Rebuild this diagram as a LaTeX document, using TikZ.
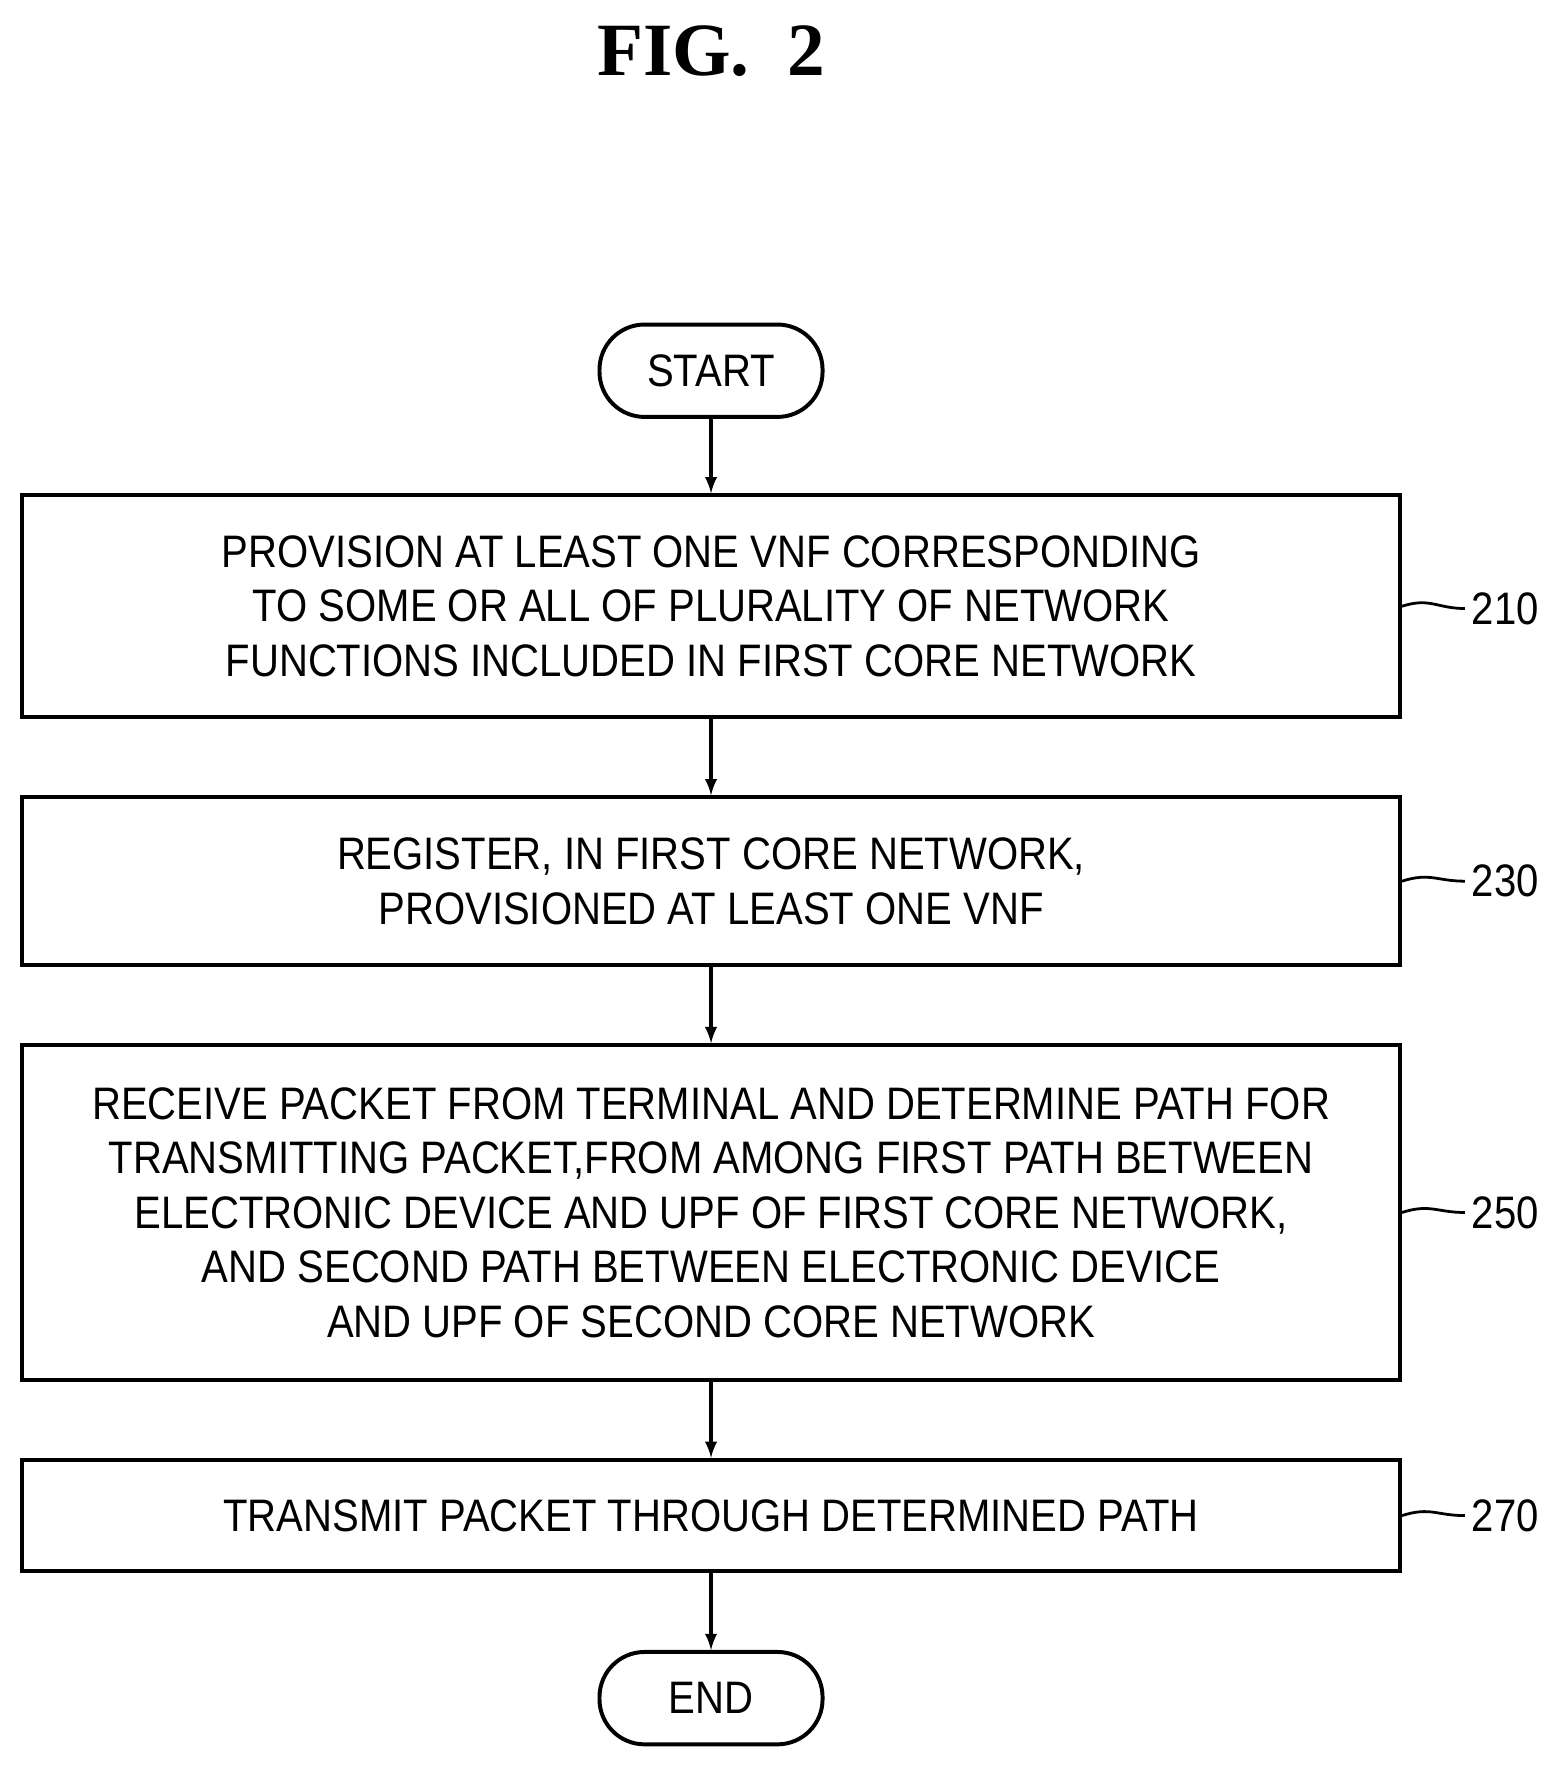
\documentclass[tikz,border=0pt]{standalone}
\usepackage{fontspec}
\setmainfont{Liberation Sans}[FakeStretch=0.88]
\newfontfamily\figfont{Liberation Serif}
\usetikzlibrary{shapes,arrows,positioning}

\begin{document}
\begin{tikzpicture}[x=0.02cm,y=-0.02cm,
  every node/.style={font=\fontsize{23}{27.5}\selectfont,align=center},
  box/.style={draw,line width=2pt,minimum width=24.46cm,inner sep=0pt},
  term/.style={draw,line width=2pt,rounded corners=0.8cm,minimum width=3.96cm,minimum height=1.64cm},
  ref/.style={anchor=west},
  flow/.style={-latex,line width=1.8pt}]
\useasboundingbox (0,0) rectangle (1390,1569);

\node[font=\figfont\bfseries\fontsize{38}{42}\selectfont] (fig) at (631,45) {FIG.\ \ 2};

\node[term] (start) at (631,329) {START};
\node[box,minimum height=3.94cm] (s210) at (631,538) {PROVISION AT LEAST ONE VNF CORRESPONDING\\TO SOME OR ALL OF PLURALITY OF NETWORK\\FUNCTIONS INCLUDED IN FIRST CORE NETWORK};
\node[box,minimum height=2.98cm] (s230) at (631,782) {REGISTER, IN FIRST CORE NETWORK,\\PROVISIONED AT LEAST ONE VNF};
\node[box,minimum height=5.94cm] (s250) at (631,1076) {RECEIVE PACKET FROM TERMINAL AND DETERMINE PATH FOR\\TRANSMITTING PACKET,FROM AMONG FIRST PATH BETWEEN\\ELECTRONIC DEVICE AND UPF OF FIRST CORE NETWORK,\\AND SECOND PATH BETWEEN ELECTRONIC DEVICE\\AND UPF OF SECOND CORE NETWORK};
\node[box,minimum height=1.98cm] (s270) at (631,1345) {TRANSMIT PACKET THROUGH DETERMINED PATH};
\node[term] (end) at (631,1507) {END};

% reference numerals
\node[ref] (l210) at (1300,540) {210};
\node[ref] (l230) at (1300,782) {230};
\node[ref] (l250) at (1300,1076) {250};
\node[ref] (l270) at (1300,1345) {270};
\foreach \n in {210,230,250,270}
  \draw[line width=1.4pt] (s\n.east) .. controls +(25,-8) and +(-25,0) .. (l\n.west);

\draw[flow] (start) -- (s210);
\draw[flow] (s210) -- (s230);
\draw[flow] (s230) -- (s250);
\draw[flow] (s250) -- (s270);
\draw[flow] (s270) -- (end);
\end{tikzpicture}
\end{document}
